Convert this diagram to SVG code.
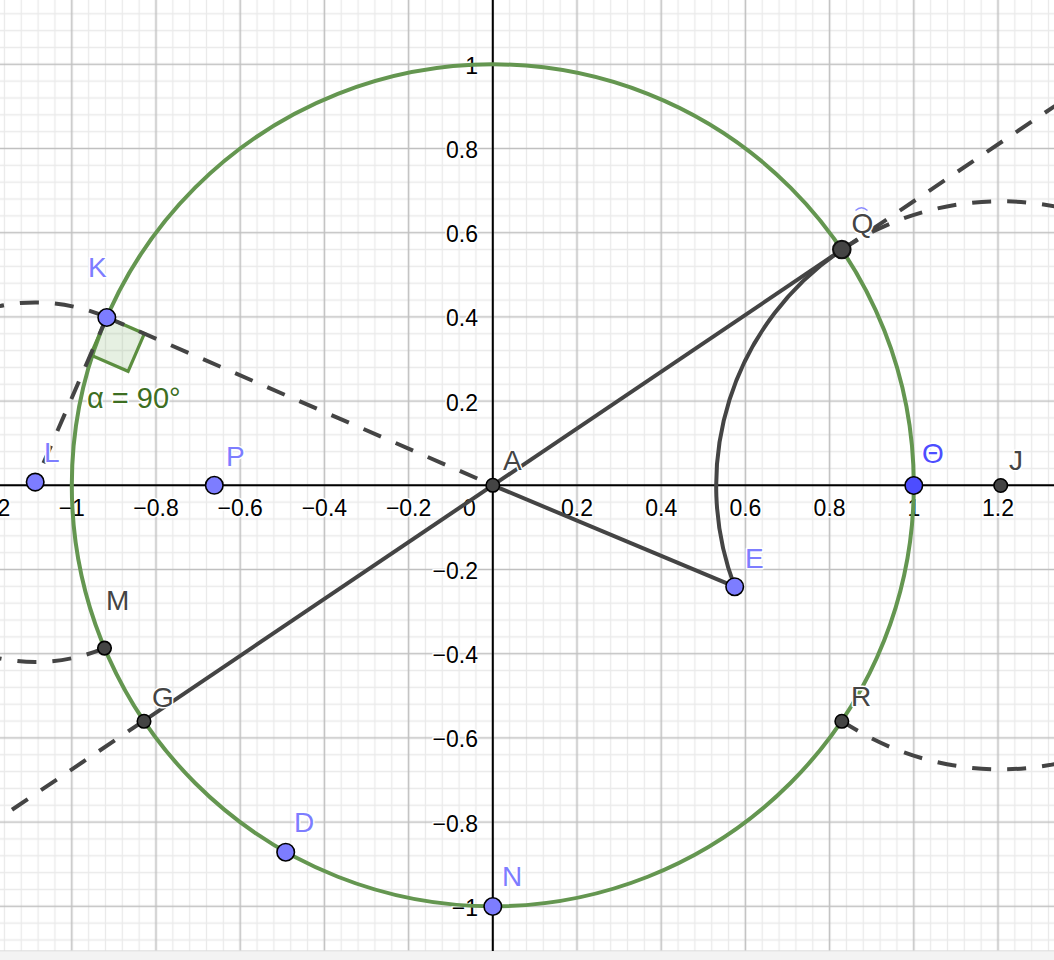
<svg xmlns="http://www.w3.org/2000/svg" width="1054" height="960" viewBox="0 0 1054 960">
<defs>
<pattern id="grid" patternUnits="userSpaceOnUse" x="-20.82" y="-28.32" width="84.2" height="84.2">
<path d="M25.26 0V84.2M42.1 0V84.2M58.94 0V84.2M75.78 0V84.2M0 25.26H84.2M0 42.1H84.2M0 58.94H84.2M0 75.78H84.2" stroke="#eaeaea" stroke-width="1.3" fill="none"/>
<path d="M8.42 0V84.2M0 8.42H84.2" stroke="#c0c0c0" stroke-width="1.6" fill="none"/>
</pattern>
<style>
text{font-family:"Liberation Sans",Arial,sans-serif}
.tick{font-size:23px;fill:#000;paint-order:stroke;stroke:#fff;stroke-width:3;stroke-linejoin:round}
.xt{text-anchor:middle}
.yt{text-anchor:end}
.lbl{font-size:28px;paint-order:stroke;stroke:#fff;stroke-width:3;stroke-linejoin:round}
.blue{fill:#7d7dff}
.dark{fill:#444}
.seg{stroke:#444;stroke-width:4;fill:none}
.dash{stroke:#444;stroke-width:4;fill:none;stroke-dasharray:19 16}
.pb{fill:#7d7dff;stroke:#000;stroke-width:1.6}
.pd{fill:#444;stroke:#000;stroke-width:1.6}
</style>
</defs>
<rect x="0" y="0" width="1054" height="951" fill="#fff"/>
<rect x="0" y="0" width="1054" height="951" fill="url(#grid)"/>
<rect x="0" y="951" width="1054" height="9" fill="#f3f3f3"/>
<line x1="0" y1="950.8" x2="1054" y2="950.8" stroke="#dcdcdc" stroke-width="1"/>
<g id="axes">
<line x1="0" y1="485.3" x2="1054" y2="485.3" stroke="#000" stroke-width="2"/>
<line x1="492.8" y1="0" x2="492.8" y2="951" stroke="#000" stroke-width="2"/>
</g>
<g id="ticks" class="tick">
<text class="xt" x="-12.4" y="515.5">−1.2</text>
<text class="xt" x="71.8" y="515.5">−1</text>
<text class="xt" x="156" y="515.5">−0.8</text>
<text class="xt" x="240.2" y="515.5">−0.6</text>
<text class="xt" x="324.4" y="515.5">−0.4</text>
<text class="xt" x="408.6" y="515.5">−0.2</text>
<text class="xt" x="469.5" y="515.5">0</text>
<text class="xt" x="577" y="515.5">0.2</text>
<text class="xt" x="661.2" y="515.5">0.4</text>
<text class="xt" x="745.4" y="515.5">0.6</text>
<text class="xt" x="829.6" y="515.5">0.8</text>
<text class="xt" x="913.8" y="515.5">1</text>
<text class="xt" x="998" y="515.5">1.2</text>
<text class="yt" x="478" y="73.8">1</text>
<text class="yt" x="478" y="158">0.8</text>
<text class="yt" x="478" y="242.2">0.6</text>
<text class="yt" x="478" y="326.4">0.4</text>
<text class="yt" x="478" y="410.6">0.2</text>
<text class="yt" x="478" y="579">−0.2</text>
<text class="yt" x="478" y="663.2">−0.4</text>
<text class="yt" x="478" y="747.4">−0.6</text>
<text class="yt" x="478" y="831.6">−0.8</text>
<text class="yt" x="478" y="915.8">−1</text>
</g>
<g id="unit-circle">
<circle cx="492.8" cy="485.3" r="421" fill="none" stroke="#649650" stroke-width="4"/>
</g>
<g id="angle-alpha">
<polygon points="106.8,317.3 144.4,333.7 128.1,371.3 90.5,354.9" fill="#5a9a3a" fill-opacity="0.15" stroke="#5b8e3f" stroke-width="3.2" stroke-linejoin="miter"/>
<text x="87" y="408" font-size="29" fill="#3d6e22" style="paint-order:stroke;stroke:#fff;stroke-width:3;stroke-linejoin:round">α = 90°</text>
</g>
<g id="connectors">
<path class="dash" d="M106.8,317.3 L492.8,485.3"/>
<path class="dash" d="M106.8,317.3 L35.2,482.1"/>
<path class="dash" d="M841.8,249.8 L1100,75.5"/>
<path class="dash" d="M143.8,720.8 L-50,851.6"/>
<path class="dash" d="M106.8,317.3 A180,180 0 0 0 -144.8,482.1"/>
<path class="dash" d="M104.5,648.1 A180,180 0 0 1 -144.8,482.1"/>
<path class="dash" d="M841.8,249.8 A284.4,284.4 0 0 1 1285.1,485.3"/>
<path class="dash" d="M841.8,720.8 A284.4,284.4 0 0 0 1285.1,485.3"/>
<path class="seg" d="M143.8,720.8 L841.8,249.8"/>
<path class="seg" d="M492.8,485.3 L734.7,586.7"/>
<path class="seg" d="M841.8,249.8 A284.4,284.4 0 0 0 734.7,586.7"/>
</g>
<g id="point-A"><circle class="pd" cx="492.8" cy="485.3" r="6.75"/><text class="lbl dark" x="503" y="470">A</text></g>
<g id="point-Q"><circle cx="841.8" cy="249.5" r="8.8" fill="#444" stroke="#111" stroke-width="2"/><text class="lbl dark" x="851.5" y="233">Q</text><path d="M855.5,210.5 Q861.5,205 867.5,210.5" fill="none" stroke="#8a8aff" stroke-width="1.2"/></g>
<g id="point-K"><circle class="pb" cx="106.8" cy="317.5" r="8.75"/><text class="lbl blue" x="88" y="277">K</text></g>
<g id="point-L"><circle class="pb" cx="35.2" cy="482.1" r="8.75"/><text class="lbl blue" x="44" y="462">L</text></g>
<g id="point-P"><circle class="pb" cx="214.3" cy="485.3" r="8.75"/><text class="lbl blue" x="226" y="465.5">P</text></g>
<g id="point-Theta"><circle cx="913.8" cy="485.5" r="8.75" fill="#4d4dff" stroke="#000" stroke-width="1.6"/><text class="lbl" x="922" y="463" fill="#4d4dff">Θ</text></g>
<g id="point-J"><circle class="pd" cx="1000.7" cy="485.5" r="6.75"/><text class="lbl dark" x="1009" y="470">J</text></g>
<g id="point-E"><circle class="pb" cx="734.7" cy="586.7" r="8.75"/><text class="lbl blue" x="745" y="567.5">E</text></g>
<g id="point-M"><circle class="pd" cx="104.5" cy="648.1" r="6.75"/><text class="lbl dark" x="106" y="610">M</text></g>
<g id="point-G"><circle class="pd" cx="144" cy="721.3" r="6.75"/><text class="lbl dark" x="152" y="706.5">G</text></g>
<g id="point-R"><circle class="pd" cx="841.8" cy="721.3" r="6.75"/><text class="lbl dark" x="851" y="705.5">R</text></g>
<g id="point-D"><circle class="pb" cx="285.7" cy="852.2" r="8.75"/><text class="lbl blue" x="294" y="831.5">D</text></g>
<g id="point-N"><circle class="pb" cx="492.8" cy="906.5" r="8.75"/><text class="lbl blue" x="502" y="886">N</text></g>
</svg>
